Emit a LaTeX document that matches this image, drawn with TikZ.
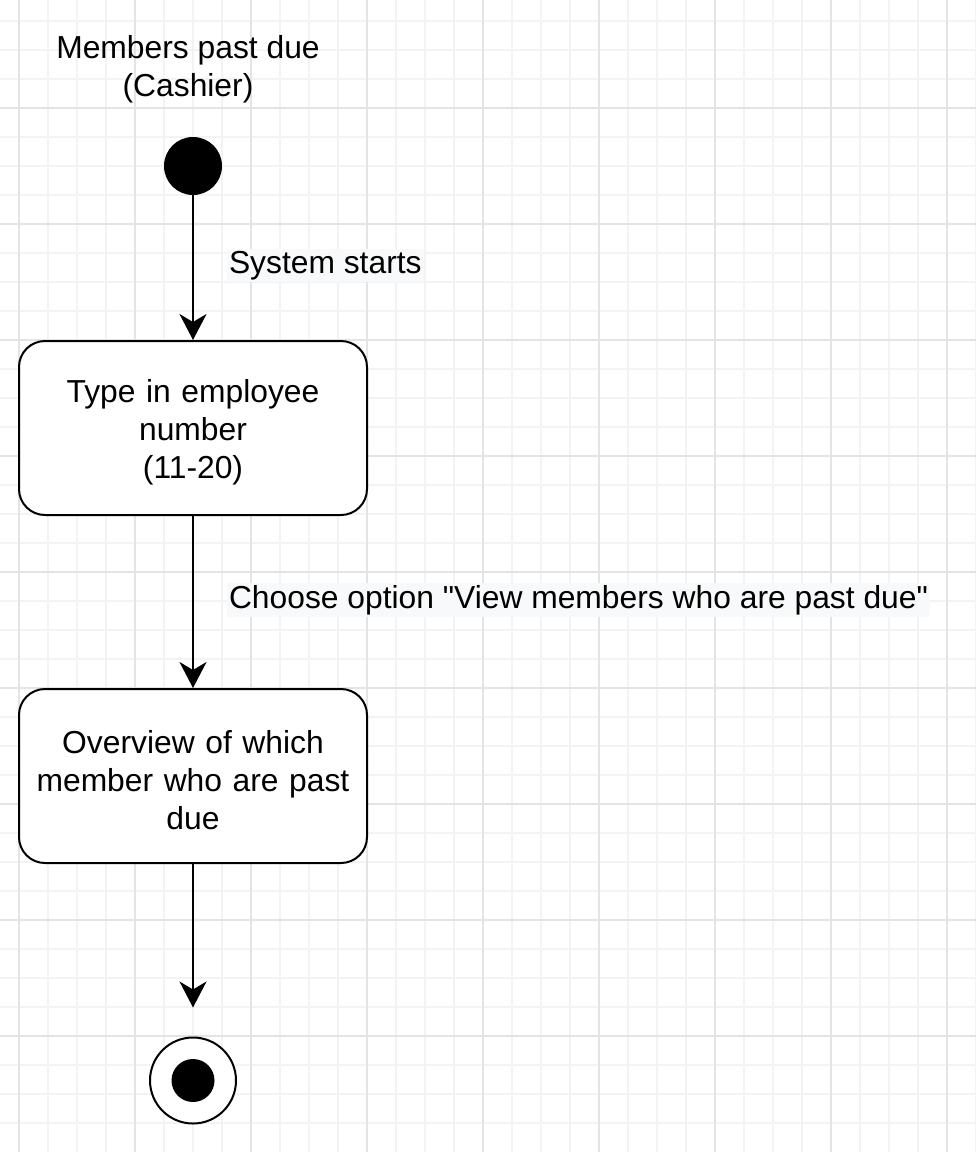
\documentclass[tikz,border=0pt]{standalone}
\usepackage{fontspec}
\setmainfont{Liberation Sans}
\usetikzlibrary{arrows.meta}

\definecolor{gridmajor}{RGB}{228,228,228}
\definecolor{gridminor}{RGB}{243,243,243}
\definecolor{labelbg}{RGB}{248,249,250}

\begin{document}
\begin{tikzpicture}[x=1pt,y=-1pt]
	\tikzstyle{every node}=[font=\fontsize{31.8}{38}\selectfont, inner sep=0pt]
	\tikzstyle{minorline}=[draw=gridminor, line width=1.2pt]
	\tikzstyle{majorline}=[draw=gridmajor, line width=1.4pt]
	\tikzstyle{activity}=[draw, line width=2pt, rounded corners=26pt, fill=white,
		minimum width=348pt, minimum height=174pt, text width=340pt, align=center,
		execute at begin node={\rule{0pt}{31pt}}]
	\tikzstyle{initial}=[circle, fill=black, minimum size=58pt]
	\tikzstyle{final}=[circle, draw, line width=2pt, fill=white, minimum size=86pt]
	\tikzstyle{finaldot}=[circle, fill=black, minimum size=43pt]
	\tikzstyle{flow}=[draw, line width=2pt, -{Stealth[length=26pt,width=27pt,inset=8pt]}]
	\tikzstyle{edgelabel}=[anchor=west, xshift=33pt, yshift=2pt, fill=labelbg, inner sep=2pt]
	\useasboundingbox (0,0) rectangle (976,1152);
	\fill[white] (0,0) rectangle (976,1152);
	% grid
	\foreach \i in {0,...,33} \draw[minorline] ({19+29*\i},0) -- ({19+29*\i},1152);
	\foreach \j in {0,...,38} \draw[minorline] (0,{21+29*\j}) -- (976,{21+29*\j});
	\foreach \i in {0,...,8} \draw[majorline] ({19+116*\i},0) -- ({19+116*\i},1152);
	\foreach \j in {0,...,8} \draw[majorline] (0,{108+116*\j}) -- (976,{108+116*\j});
	% nodes
	\node[align=center] (title) at (188,69) {Members past due\\(Cashier)};
	\node[initial] (start) at (193,166) {};
	\node[activity] (typein) at (193,428) {Type in employee\\number\\(11-20)};
	\node[activity] (overview) at (193,776) {Overview of which\\member who are past\\due};
	\node[final] (finish) at (193,1080.5) {};
	\node[finaldot] (finishdot) at (finish.center) {};
	% transitions
	\draw[flow] (start) -- node[edgelabel] {System starts} (typein);
	\draw[flow] (typein) -- node[edgelabel] {Choose option \textquotedbl View members who are past due\textquotedbl} (overview);
	\draw[flow, shorten >=29pt] (overview) -- (finish);
\end{tikzpicture}
\end{document}
